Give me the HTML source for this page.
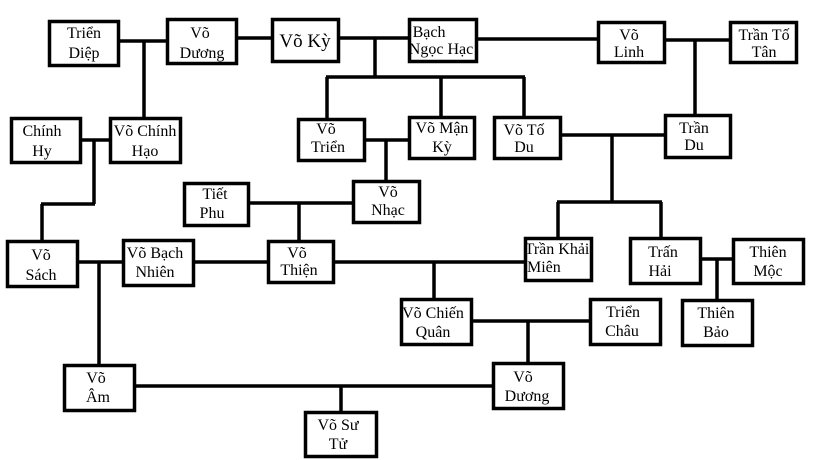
<!DOCTYPE html>
<html><head><meta charset="utf-8"><style>
html,body{margin:0;padding:0;background:#fff;}
svg{display:block;}
text{font-family:"Liberation Serif",serif;font-size:16px;fill:#000;text-anchor:middle;}
</style></head><body>
<svg width="819" height="460" viewBox="0 0 819 460" xmlns="http://www.w3.org/2000/svg">
<g stroke="#000" stroke-width="3.5" fill="none">
<!-- connectors -->
<path d="M120 41H166M144 41V117"/>
<path d="M238 38H272"/>
<path d="M339 38H408M375 38V77M326 77H525M327 77V118M441 77V116M524 77V116"/>
<path d="M477 39H597"/>
<path d="M665 40H729M695 40V114"/>
<path d="M561 135H664M612 135V202M557 202H662M558 202V237M661 202V237"/>
<path d="M82 140H109M94 140V204M41 204H95M42 204V240"/>
<path d="M365 140H408M386 140V180"/>
<path d="M249 203H352M299 203V240"/>
<path d="M78 262H122M99 262V364"/>
<path d="M194 262H267"/>
<path d="M334 262H524M434 262V298"/>
<path d="M701 259H732M717 259V299"/>
<path d="M472 321H589M528 321V362"/>
<path d="M135 386H492M341 386V411"/>
</g>
<g stroke="#000" stroke-width="3.5" fill="#fff">
<rect x="49.5" y="21.5" width="69" height="44"/>
<rect x="167.5" y="19.5" width="69" height="44"/>
<rect x="272.5" y="19.5" width="66" height="42"/>
<rect x="409.5" y="19.5" width="67" height="42"/>
<rect x="598.5" y="22.5" width="66" height="40"/>
<rect x="730.5" y="22.5" width="66" height="40"/>
<rect x="11.5" y="118.5" width="69" height="44"/>
<rect x="110.5" y="118.5" width="70" height="44"/>
<rect x="298.5" y="119.5" width="66" height="41"/>
<rect x="409.5" y="117.5" width="65" height="41"/>
<rect x="494.5" y="117.5" width="66" height="41"/>
<rect x="665.5" y="115.5" width="65" height="42"/>
<rect x="184.5" y="183.5" width="64" height="42"/>
<rect x="353.5" y="181.5" width="66" height="41"/>
<rect x="7.5" y="241.5" width="70" height="45"/>
<rect x="123.5" y="240.5" width="70" height="45"/>
<rect x="268.5" y="241.5" width="65" height="41"/>
<rect x="525.5" y="238.5" width="66" height="42"/>
<rect x="630.5" y="238.5" width="70" height="45"/>
<rect x="733.5" y="239.5" width="70" height="44"/>
<rect x="401.5" y="299.5" width="70" height="45"/>
<rect x="590.5" y="299.5" width="70" height="45"/>
<rect x="682.5" y="300.5" width="70" height="45"/>
<rect x="64.5" y="365.5" width="70" height="45"/>
<rect x="493.5" y="363.5" width="70" height="45"/>
<rect x="305.5" y="412.5" width="71" height="44"/>
</g>
<g>
<text x="84" y="38">Triển</text><text x="84" y="58">Diệp</text>
<text x="200" y="38">Võ</text><text x="202" y="58">Dương</text>
<text x="305" y="47" style="font-size:19px">Võ Kỳ</text>
<text x="429" y="37">Bạch</text><text x="441" y="54">Ngọc Hạc</text>
<text x="629" y="40">Võ</text><text x="629" y="57">Linh</text>
<text x="764" y="40">Trần Tố</text><text x="764" y="57">Tân</text>
<text x="42" y="136">Chính</text><text x="42" y="156">Hy</text>
<text x="145" y="136">Võ Chính</text><text x="145" y="156">Hạo</text>
<text x="326" y="134">Võ</text><text x="328" y="152">Triển</text>
<text x="442" y="133">Võ Mận</text><text x="442" y="152">Kỳ</text>
<text x="524" y="135">Võ Tố</text><text x="524" y="152">Du</text>
<text x="694" y="133">Trần</text><text x="694" y="150">Du</text>
<text x="215" y="199">Tiết</text><text x="212" y="218">Phu</text>
<text x="388" y="197">Võ</text><text x="388" y="215">Nhạc</text>
<text x="41" y="260">Võ</text><text x="41" y="280">Sách</text>
<text x="155" y="258">Võ Bạch</text><text x="155" y="277">Nhiên</text>
<text x="297" y="258">Võ</text><text x="299" y="275">Thiện</text>
<text x="557" y="254">Trần Khải</text><text x="545" y="272" style="text-anchor:start" dx="-18">Miên</text>
<text x="663" y="257">Trấn</text><text x="660" y="276">Hải</text>
<text x="768" y="257">Thiên</text><text x="768" y="276">Mộc</text>
<text x="433" y="318">Võ Chiến</text><text x="433" y="337">Quân</text>
<text x="623" y="317">Triển</text><text x="622" y="336">Châu</text>
<text x="716" y="318">Thiên</text><text x="716" y="337">Bảo</text>
<text x="96" y="383">Võ</text><text x="98" y="402">Âm</text>
<text x="523" y="382">Võ</text><text x="527" y="401">Dương</text>
<text x="338" y="430">Võ Sư</text><text x="338" y="449">Tử</text>
</g>
</svg>
</body></html>
